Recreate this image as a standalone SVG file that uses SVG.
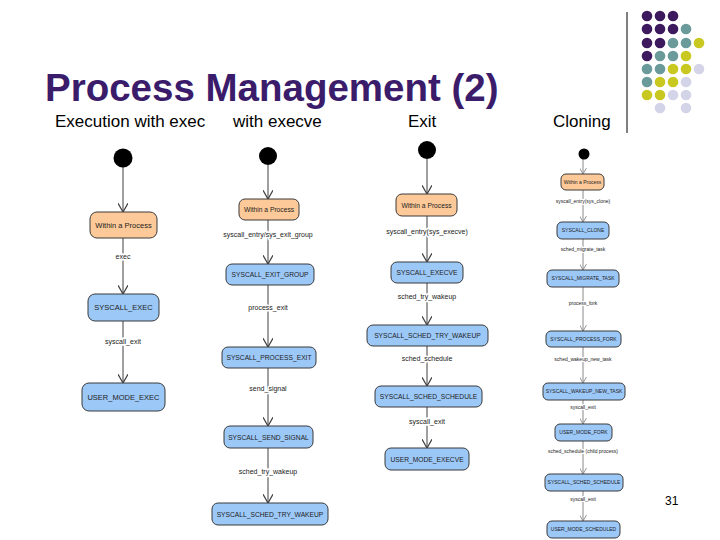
<svg xmlns="http://www.w3.org/2000/svg" width="720" height="540" viewBox="0 0 720 540">
<style>
text{font-family:"Liberation Sans",Arial,sans-serif}
.title{font-size:38.5px;font-weight:bold;fill:#3b1c6b}
.sub{font-size:17px;fill:#000}
.init{fill:#000}
.orange{fill:#fdc998;stroke:#3a3a3a;stroke-width:1}
.blue{fill:#9cc8f8;stroke:#3a3a3a;stroke-width:1}
.bt{font-size:7.5px;fill:#222;text-anchor:middle}
.bt2{font-size:6.7px;fill:#222;text-anchor:middle}
.bt4{font-size:5px;fill:#222;text-anchor:middle}
.lb{font-size:7px;fill:#222;text-anchor:middle;stroke:#fff;stroke-width:3;paint-order:stroke}
.lb4{font-size:5px;fill:#222;text-anchor:middle;stroke:#fff;stroke-width:2;paint-order:stroke}
.ln{stroke:#404040;stroke-width:1;fill:none;marker-end:url(#ah)}
.ln4{stroke:#888;stroke-width:1;fill:none;marker-end:url(#ah4)}
.p{fill:#3d1a5e}.t{fill:#6a9a9a}.y{fill:#c8c820}.l{fill:#d4d4e8}
</style>
<defs>
<marker id="ah" markerUnits="userSpaceOnUse" markerWidth="10" markerHeight="10" refX="7" refY="4" orient="auto" viewBox="0 0 8 8">
<path d="M0,0 L7,4 L0,8" fill="none" stroke="#404040" stroke-width="1"/>
</marker>
<marker id="ah4" markerUnits="userSpaceOnUse" markerWidth="7" markerHeight="7" refX="7" refY="4" orient="auto" viewBox="0 0 8 8">
<path d="M0,0 L7,4 L0,8" fill="none" stroke="#888" stroke-width="1"/>
</marker>
</defs>
<rect width="720" height="540" fill="#fff"/>

<g id="decor">
<line x1="627" y1="12" x2="627" y2="133" stroke="#000" stroke-width="1"/>
<circle class="p" cx="647" cy="16" r="5.3"/><circle class="p" cx="660" cy="16" r="5.3"/><circle class="p" cx="673" cy="16" r="5.3"/>
<circle class="p" cx="647" cy="29" r="5.3"/><circle class="p" cx="660" cy="29" r="5.3"/><circle class="p" cx="673" cy="29" r="5.3"/><circle class="t" cx="686" cy="29" r="5.3"/>
<circle class="p" cx="647" cy="43" r="5.3"/><circle class="p" cx="660" cy="43" r="5.3"/><circle class="t" cx="673" cy="43" r="5.3"/><circle class="t" cx="686" cy="43" r="5.3"/><circle class="y" cx="699" cy="43" r="5.3"/>
<circle class="p" cx="647" cy="56" r="5.3"/><circle class="t" cx="660" cy="56" r="5.3"/><circle class="t" cx="673" cy="56" r="5.3"/><circle class="y" cx="686" cy="56" r="5.3"/>
<circle class="t" cx="647" cy="69" r="5.3"/><circle class="t" cx="660" cy="69" r="5.3"/><circle class="y" cx="673" cy="69" r="5.3"/><circle class="y" cx="686" cy="69" r="5.3"/><circle class="l" cx="699" cy="69" r="5.3"/>
<circle class="t" cx="647" cy="82" r="5.3"/><circle class="y" cx="660" cy="82" r="5.3"/><circle class="y" cx="673" cy="82" r="5.3"/><circle class="l" cx="686" cy="82" r="5.3"/>
<circle class="y" cx="647" cy="95" r="5.3"/><circle class="y" cx="660" cy="95" r="5.3"/><circle class="l" cx="673" cy="95" r="5.3"/><circle class="l" cx="686" cy="95" r="5.3"/>
<circle class="l" cx="660" cy="108" r="5.3"/><circle class="l" cx="686" cy="108" r="5.3"/>
</g>

<text class="title" x="45" y="101">Process Management (2)</text>
<text class="sub" x="55" y="127">Execution with exec</text>
<text class="sub" x="233" y="127">with execve</text>
<text class="sub" x="408" y="127">Exit</text>
<text class="sub" x="553" y="127">Cloning</text>
<text x="665" y="505" style="font-size:12px">31</text>

<g id="connectors">
<line class="ln" x1="123" y1="167" x2="123" y2="212"/>
<line class="ln" x1="123" y1="238" x2="123" y2="294"/>
<line class="ln" x1="123" y1="321" x2="123" y2="383"/>
<line class="ln" x1="268" y1="165" x2="268" y2="199"/>
<line class="ln" x1="268" y1="220" x2="268" y2="264"/>
<line class="ln" x1="268" y1="285" x2="268" y2="347"/>
<line class="ln" x1="268" y1="368" x2="268" y2="426"/>
<line class="ln" x1="268" y1="448" x2="268" y2="503"/>
<line class="ln" x1="427" y1="159" x2="427" y2="194"/>
<line class="ln" x1="427" y1="216" x2="427" y2="262"/>
<line class="ln" x1="427" y1="283" x2="427" y2="325"/>
<line class="ln" x1="427" y1="346" x2="427" y2="386"/>
<line class="ln" x1="427" y1="407" x2="427" y2="448"/>
<line class="ln4" x1="583" y1="159" x2="583" y2="174"/>
<line class="ln4" x1="583" y1="190" x2="583" y2="222"/>
<line class="ln4" x1="583" y1="239" x2="583" y2="270"/>
<line class="ln4" x1="583" y1="287" x2="583" y2="331"/>
<line class="ln4" x1="583" y1="347" x2="583" y2="383"/>
<line class="ln4" x1="583" y1="400" x2="583" y2="424"/>
<line class="ln4" x1="583" y1="441" x2="583" y2="474"/>
<line class="ln4" x1="583" y1="491" x2="583" y2="521"/>
<text class="lb" x="123" y="259">exec</text>
<text class="lb" x="123" y="344">syscall_exit</text>
<text class="lb" x="268" y="237">syscall_entry/sys_exit_group</text>
<text class="lb" x="268" y="310">process_exit</text>
<text class="lb" x="268" y="391">send_signal</text>
<text class="lb" x="268" y="474">sched_try_wakeup</text>
<text class="lb" x="427" y="234">syscall_entry(sys_execve)</text>
<text class="lb" x="427" y="299">sched_try_wakeup</text>
<text class="lb" x="427" y="361">sched_schedule</text>
<text class="lb" x="427" y="424">syscall_exit</text>
<text class="lb4" x="583" y="203">syscall_entry(sys_clone)</text>
<text class="lb4" x="583" y="251">sched_migrate_task</text>
<text class="lb4" x="583" y="305">process_fork</text>
<text class="lb4" x="583" y="361">sched_wakeup_new_task</text>
<text class="lb4" x="583" y="409">syscall_exit</text>
<text class="lb4" x="583" y="453">sched_schedule (child process)</text>
<text class="lb4" x="583" y="501">syscall_exit</text>
</g>

<g id="c1-start"><circle class="init" cx="123" cy="158" r="9.5"/></g>
<g id="c1-within"><rect class="orange" x="90" y="212" width="67" height="26" rx="7"/><text class="bt" x="123.5" y="228">Within a Process</text></g>
<g id="c1-syscall-exec"><rect class="blue" x="88" y="294" width="71" height="27" rx="7"/><text class="bt" x="123.5" y="310">SYSCALL_EXEC</text></g>
<g id="c1-user-mode-exec"><rect class="blue" x="82" y="383" width="83" height="28" rx="7"/><text class="bt" x="123.5" y="400">USER_MODE_EXEC</text></g>

<g id="c2-start"><circle class="init" cx="268" cy="156" r="9"/></g>
<g id="c2-within"><rect class="orange" x="239" y="199" width="60" height="21" rx="6"/><text class="bt2" x="269" y="212.3">Within a Process</text></g>
<g id="c2-exit-group"><rect class="blue" x="226" y="264" width="88" height="21" rx="6"/><text class="bt2" x="270" y="277.3">SYSCALL_EXIT_GROUP</text></g>
<g id="c2-process-exit"><rect class="blue" x="222" y="347" width="94" height="21" rx="6"/><text class="bt2" x="269" y="360.3">SYSCALL_PROCESS_EXIT</text></g>
<g id="c2-send-signal"><rect class="blue" x="224" y="426" width="89" height="22" rx="6"/><text class="bt2" x="268.5" y="439.8">SYSCALL_SEND_SIGNAL</text></g>
<g id="c2-try-wakeup"><rect class="blue" x="212" y="503" width="116" height="22" rx="6"/><text class="bt2" x="270" y="516.8">SYSCALL_SCHED_TRY_WAKEUP</text></g>

<g id="c3-start"><circle class="init" cx="427" cy="150" r="9"/></g>
<g id="c3-within"><rect class="orange" x="396" y="194" width="61" height="22" rx="6"/><text class="bt2" x="426.5" y="207.8">Within a Process</text></g>
<g id="c3-execve"><rect class="blue" x="391" y="262" width="72" height="21" rx="6"/><text class="bt2" x="427" y="275.3">SYSCALL_EXECVE</text></g>
<g id="c3-try-wakeup"><rect class="blue" x="367" y="325" width="121" height="21" rx="6"/><text class="bt2" x="427.5" y="338.3">SYSCALL_SCHED_TRY_WAKEUP</text></g>
<g id="c3-schedule"><rect class="blue" x="375" y="386" width="107" height="21" rx="6"/><text class="bt2" x="428.5" y="399.3">SYSCALL_SCHED_SCHEDULE</text></g>
<g id="c3-user-mode"><rect class="blue" x="385" y="448" width="84" height="22" rx="6"/><text class="bt2" x="427" y="461.8">USER_MODE_EXECVE</text></g>

<g id="c4-start"><circle class="init" cx="584" cy="154" r="5.5"/></g>
<g id="c4-within"><rect class="orange" x="561" y="174" width="43" height="16" rx="5"/><text class="bt4" x="582.5" y="183.8">Within a Process</text></g>
<g id="c4-clone"><rect class="blue" x="557" y="222" width="52" height="17" rx="5"/><text class="bt4" x="583" y="232.3">SYSCALL_CLONE</text></g>
<g id="c4-migrate"><rect class="blue" x="547" y="270" width="72" height="17" rx="5"/><text class="bt4" x="583" y="280.3">SYSCALL_MIGRATE_TASK</text></g>
<g id="c4-fork"><rect class="blue" x="546" y="331" width="75" height="16" rx="5"/><text class="bt4" x="583.5" y="340.8">SYSCALL_PROCESS_FORK</text></g>
<g id="c4-wakeup-new"><rect class="blue" x="543" y="383" width="82" height="17" rx="5"/><text class="bt4" x="584" y="393.3">SYSCALL_WAKEUP_NEW_TASK</text></g>
<g id="c4-user-fork"><rect class="blue" x="555" y="424" width="57" height="17" rx="5"/><text class="bt4" x="583.5" y="434.3">USER_MODE_FORK</text></g>
<g id="c4-schedule"><rect class="blue" x="545" y="474" width="78" height="17" rx="5"/><text class="bt4" x="584" y="484.3">SYSCALL_SCHED_SCHEDULE</text></g>
<g id="c4-user-sched"><rect class="blue" x="547" y="521" width="73" height="17" rx="5"/><text class="bt4" x="583.5" y="531.3">USER_MODE_SCHEDULED</text></g>
</svg>
